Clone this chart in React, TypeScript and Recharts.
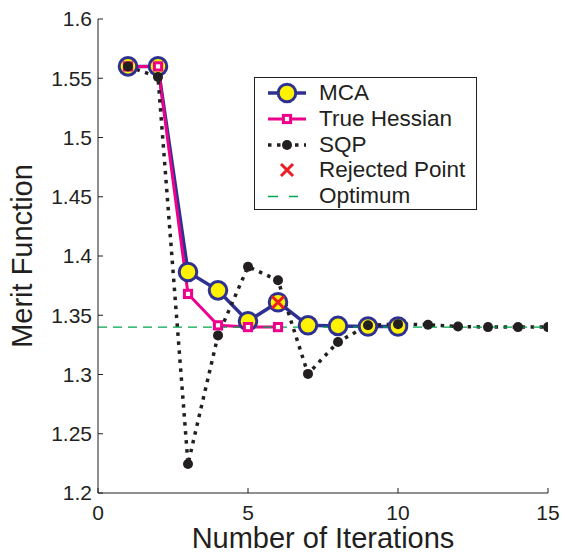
import React from 'react';
import { ComposedChart, Line, XAxis, YAxis, Legend } from 'recharts';

// values
const mcaIterations = [1, 2, 3, 4, 5, 6, 7, 8, 9, 10];
const mcaValues = [1.56, 1.56, 1.3865, 1.371, 1.345, 1.361, 1.3415, 1.341, 1.3405, 1.3405];

const hessianIterations = [1, 2, 3, 4, 5, 6];
const hessianValues = [1.56, 1.56, 1.368, 1.3415, 1.34, 1.34];

const sqpIterations = [1, 2, 3, 4, 5, 6, 7, 8, 9, 10, 11, 12, 13, 14, 15];
const sqpValues = [1.56, 1.551, 1.2245, 1.333, 1.391, 1.3795, 1.3005, 1.3275, 1.3415, 1.3425, 1.342, 1.3405, 1.34, 1.34, 1.34];

const rejectedIterations = [6];
const rejectedValues = [1.361];

const optimumRange = [0, 15];
const optimumValue = 1.34;

const xTicks = [0, 5, 10, 15];
const yTicks = [1.2, 1.25, 1.3, 1.35, 1.4, 1.45, 1.5, 1.55, 1.6];

const NAVY = '#2E3192';
const YELLOW = '#FFF200';
const MAGENTA = '#EC008C';
const INK = '#231F20';
const RED = '#ED1C24';
const GREEN = '#00A651';
const FONT = '"Liberation Sans", Arial, Helvetica, sans-serif';

const mcaData = mcaIterations.map((x, i) => ({ x, y: mcaValues[i] }));
const hessianData = hessianIterations.map((x, i) => ({ x, y: hessianValues[i] }));
const sqpData = sqpIterations.map((x, i) => ({ x, y: sqpValues[i] }));
const rejectedData = rejectedIterations.map((x, i) => ({ x, y: rejectedValues[i] }));
const optimumData = optimumRange.map(x => ({ x, y: optimumValue }));

const tickStyle = { fontSize: 21, fill: INK, fontFamily: FONT };

const SquareDot = (props: any) => {
  const { cx, cy, index } = props;
  if (cx == null || cy == null) return null;
  return <rect key={index} x={cx - 3.6} y={cy - 3.6} width={7.2} height={7.2} fill="#fff" stroke={MAGENTA} strokeWidth={3} />;
};

const SqpDot = (props: any) => {
  const { cx, cy, index } = props;
  if (cx == null || cy == null) return null;
  return <circle key={index} cx={cx} cy={cy} r={5} fill={INK} stroke="none" />;
};

const Cross = (props: any) => {
  const { cx, cy, index } = props;
  if (cx == null || cy == null) return null;
  const s = 6;
  return (
    <g key={index} stroke={RED} strokeWidth={3} strokeDasharray="none">
      <line x1={cx - s} y1={cy - s} x2={cx + s} y2={cy + s} />
      <line x1={cx - s} y1={cy + s} x2={cx + s} y2={cy - s} />
    </g>
  );
};

const YTitle = ({ viewBox }: any) => {
  const x = viewBox.x + 32;
  const y = viewBox.y + viewBox.height / 2;
  return (
    <text x={x} y={y} transform={`rotate(-90 ${x} ${y})`} textAnchor="middle" fontSize={29} fill={INK} fontFamily={FONT}>
      Merit Function
    </text>
  );
};

const XTitle = ({ viewBox }: any) => (
  <text x={viewBox.x + viewBox.width / 2} y={viewBox.y + 55} textAnchor="middle" fontSize={29} fill={INK} fontFamily={FONT}>
    Number of Iterations
  </text>
);

const legendItems = [
  { label: 'MCA', kind: 'mca' },
  { label: 'True Hessian', kind: 'hessian' },
  { label: 'SQP', kind: 'sqp' },
  { label: 'Rejected Point', kind: 'rejected' },
  { label: 'Optimum', kind: 'optimum' },
];

const LegendIcon = ({ kind }: { kind: string }) => (
  <svg width={50} height={26} style={{ display: 'block' }}>
    {kind === 'mca' && (
      <g>
        <line x1={5} y1={13} x2={43} y2={13} stroke={NAVY} strokeWidth={3.5} />
        <circle cx={24} cy={13} r={8.8} fill={YELLOW} stroke={NAVY} strokeWidth={3} />
      </g>
    )}
    {kind === 'hessian' && (
      <g>
        <line x1={5} y1={13} x2={43} y2={13} stroke={MAGENTA} strokeWidth={3} />
        <rect x={20.4} y={9.4} width={7.2} height={7.2} fill="#fff" stroke={MAGENTA} strokeWidth={3} />
      </g>
    )}
    {kind === 'sqp' && (
      <g>
        <line x1={5} y1={13} x2={43} y2={13} stroke={INK} strokeWidth={3.5} strokeDasharray="3.5 5.5" />
        <circle cx={24} cy={13} r={5} fill={INK} />
      </g>
    )}
    {kind === 'rejected' && <Cross cx={24} cy={13} />}
    {kind === 'optimum' && (
      <line x1={5} y1={13.5} x2={35} y2={13.5} stroke={GREEN} strokeWidth={1.3} strokeDasharray="10 11" />
    )}
  </svg>
);

const LegendBox = () => (
  <div
    style={{
      boxSizing: 'border-box',
      width: 223,
      height: 133,
      border: `1px solid ${INK}`,
      background: '#fff',
      paddingTop: 2,
      fontFamily: FONT,
      fontSize: 22.5,
      color: INK,
    }}
  >
    {legendItems.map(item => (
      <div key={item.label} style={{ display: 'flex', alignItems: 'center', height: 25.8, paddingLeft: 8 }}>
        <LegendIcon kind={item.kind} />
        <span style={{ marginLeft: 6, lineHeight: '26px', whiteSpace: 'nowrap' }}>{item.label}</span>
      </div>
    ))}
  </div>
);

export default function App() {
  return (
    <div style={{ position: 'absolute', left: 0, top: 0, width: 565, height: 553, background: '#fff', fontFamily: FONT }}>
      <ComposedChart width={565} height={553} margin={{ top: 19, right: 17, bottom: 0, left: 0 }}>
        <XAxis
          xAxisId="b"
          type="number"
          dataKey="x"
          domain={[0, 15]}
          ticks={xTicks}
          orientation="bottom"
          height={60}
          tickSize={-5}
          tickMargin={17}
          stroke={INK}
          tick={tickStyle}
          label={<XTitle />}
          allowDataOverflow
        />
        <XAxis
          xAxisId="t"
          type="number"
          domain={[0, 15]}
          ticks={xTicks}
          orientation="top"
          height={0}
          tickSize={-5}
          stroke={INK}
          tickFormatter={() => ''}
        />
        <YAxis
          yAxisId="l"
          type="number"
          domain={[1.2, 1.6]}
          ticks={yTicks}
          orientation="left"
          width={98}
          tickSize={-5}
          tickMargin={11}
          stroke={INK}
          tick={tickStyle}
          tickFormatter={(v: number) => String(v)}
          label={<YTitle />}
          allowDataOverflow
        />
        <YAxis
          yAxisId="r"
          type="number"
          domain={[1.2, 1.6]}
          ticks={yTicks}
          orientation="right"
          width={0}
          tickSize={-5}
          stroke={INK}
          tickFormatter={() => ''}
        />
        <Line
          xAxisId="b"
          yAxisId="l"
          data={mcaData}
          dataKey="y"
          stroke={NAVY}
          strokeWidth={3.5}
          dot={{ r: 8.8, fill: YELLOW, stroke: NAVY, strokeWidth: 3 }}
          activeDot={false}
          isAnimationActive={false}
        />
        <Line
          xAxisId="b"
          yAxisId="l"
          data={hessianData}
          dataKey="y"
          stroke={MAGENTA}
          strokeWidth={3}
          dot={SquareDot}
          activeDot={false}
          isAnimationActive={false}
        />
        <Line
          xAxisId="b"
          yAxisId="l"
          data={sqpData}
          dataKey="y"
          stroke={INK}
          strokeWidth={3.5}
          strokeDasharray="3.5 5.5"
          dot={SqpDot}
          activeDot={false}
          isAnimationActive={false}
        />
        <Line
          xAxisId="b"
          yAxisId="l"
          data={rejectedData}
          dataKey="y"
          stroke="none"
          dot={Cross}
          activeDot={false}
          isAnimationActive={false}
        />
        <Line
          xAxisId="b"
          yAxisId="l"
          data={optimumData}
          dataKey="y"
          stroke={GREEN}
          strokeWidth={1.3}
          strokeDasharray="9 6"
          dot={false}
          activeDot={false}
          isAnimationActive={false}
        />
        <Legend
          layout="vertical"
          align="center"
          verticalAlign="middle"
          wrapperStyle={{ left: 254, top: 77, width: 223, height: 133 }}
          content={() => <LegendBox />}
        />
      </ComposedChart>
    </div>
  );
}
